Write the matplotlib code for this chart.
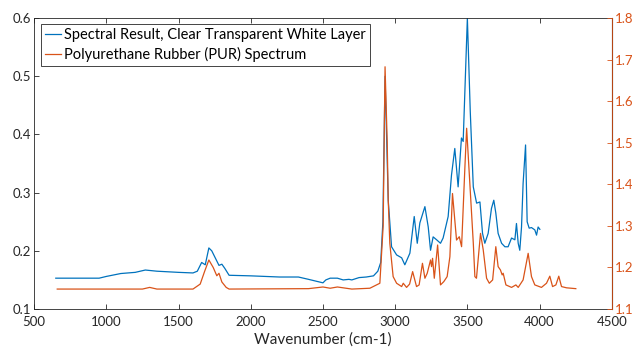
import matplotlib
matplotlib.use("Agg")
import matplotlib.pyplot as plt

plt.rcParams['font.family'] = ['Lato', 'DejaVu Sans']

# sample spectrum (left axis)
blue_wn = [650, 950, 1000, 1100, 1200, 1270, 1350, 1500, 1600, 1630, 1660, 1685, 1710, 1730,
           1760, 1780, 1800, 1820, 1850, 2000, 2200, 2330, 2400, 2500, 2520, 2550, 2600, 2640,
           2680, 2700, 2750, 2800, 2850, 2880, 2900, 2915, 2930, 2952, 2975, 3010, 3045, 3067,
           3102, 3132, 3153, 3171, 3206, 3229, 3245, 3263, 3287, 3314, 3332, 3367, 3390, 3413,
           3436, 3459, 3471, 3500, 3520, 3541, 3564, 3587, 3605, 3621, 3644, 3667, 3683, 3697,
           3713, 3737, 3760, 3782, 3806, 3829, 3840, 3852, 3863, 3875, 3886, 3903, 3914, 3928,
           3944, 3967, 3979, 3990, 4002]
blue_val = [.153, .153, .156, .161, .163, .167, .165, .163, .162, .165, .180, .176, .205, .200,
            .185, .175, .177, .170, .158, .157, .155, .155, .151, .145, .150, .153, .153, .150,
            .151, .150, .154, .155, .157, .165, .180, .250, .500, .287, .207, .193, .188, .176,
            .196, .259, .213, .248, .276, .241, .201, .224, .219, .213, .222, .259, .330, .376,
            .310, .394, .388, .600, .440, .310, .282, .284, .230, .213, .230, .273, .287, .265,
            .230, .213, .207, .207, .222, .219, .247, .213, .201, .241, .316, .382, .250, .239,
            .240, .236, .227, .241, .237]

# PUR reference spectrum (right axis)
pur_wn = [660, 1250, 1300, 1350, 1600, 1650, 1680, 1710, 1740, 1765, 1780, 1800, 1830, 1850,
          2400, 2500, 2550, 2600, 2700, 2825, 2894, 2917, 2930, 2945, 2952, 2963, 2986, 3010,
          3045, 3056, 3079, 3100, 3121, 3148, 3166, 3189, 3206, 3222, 3245, 3252, 3259, 3271,
          3294, 3314, 3337, 3360, 3379, 3397, 3413, 3425, 3444, 3460, 3483, 3495, 3517, 3541,
          3552, 3563, 3591, 3610, 3633, 3652, 3675, 3697, 3713, 3729, 3741, 3748, 3767, 3806,
          3836, 3852, 3886, 3921, 3944, 3967, 4013, 4048, 4071, 4090, 4113, 4133, 4152, 4187,
          4251]
pur_val = [1.148, 1.148, 1.152, 1.148, 1.148, 1.160, 1.190, 1.218, 1.200, 1.180, 1.186, 1.165,
           1.152, 1.148, 1.149, 1.153, 1.150, 1.153, 1.148, 1.150, 1.162, 1.300, 1.683, 1.500,
           1.362, 1.258, 1.178, 1.162, 1.154, 1.162, 1.152, 1.160, 1.190, 1.154, 1.158, 1.210,
           1.174, 1.186, 1.218, 1.202, 1.222, 1.174, 1.254, 1.158, 1.166, 1.178, 1.226, 1.378,
           1.314, 1.266, 1.274, 1.250, 1.442, 1.535, 1.403, 1.259, 1.178, 1.174, 1.282, 1.242,
           1.174, 1.162, 1.170, 1.250, 1.202, 1.194, 1.182, 1.186, 1.158, 1.152, 1.158, 1.152,
           1.170, 1.234, 1.178, 1.158, 1.152, 1.162, 1.179, 1.154, 1.158, 1.179, 1.154, 1.151,
           1.149]

labels = ['Spectral Result, Clear Transparent White Layer', 'Polyurethane Rubber (PUR) Spectrum']

blue = '#0072BD'
orange = '#D95319'
dark = '#262626'

fig = plt.figure(figsize=(6.32, 3.56), dpi=100)
ax = fig.add_axes([0.054, 0.132, 0.914, 0.817])
ax2 = ax.twinx()

l1, = ax.plot(blue_wn, blue_val, color=blue, lw=0.9)
l2, = ax2.plot(pur_wn, pur_val, color=orange, lw=0.9)

ax.set_xlim(500, 4500)
ax.set_ylim(0.1, 0.6)
ax2.set_ylim(1.1, 1.8)
ax.set_xticks(range(500, 4501, 500))
ax.set_yticks([0.1, 0.2, 0.3, 0.4, 0.5, 0.6])
ax2.set_yticks([1.1, 1.2, 1.3, 1.4, 1.5, 1.6, 1.7, 1.8])

ax.tick_params(direction='in', length=3.5, width=0.6, colors=dark, labelsize=9.5,
               top=True, pad=2)
ax.tick_params(axis='x', pad=5)
ax.tick_params(axis='y', right=False)
ax2.tick_params(direction='in', length=3.5, width=0.6, colors=orange, labelsize=9.5, pad=2)

for s in ['left', 'bottom', 'top']:
    ax.spines[s].set_color(dark)
    ax.spines[s].set_linewidth(0.6)
ax2.spines['right'].set_color(orange)
ax2.spines['right'].set_linewidth(0.6)
ax2.spines['left'].set_visible(False)
ax2.spines['top'].set_visible(False)
ax2.spines['bottom'].set_visible(False)

ax.set_xlabel('Wavenumber (cm-1)', fontsize=11, color=dark, labelpad=3)

leg = ax2.legend([l1, l2], labels, loc='upper left', bbox_to_anchor=(0.012, 0.98),
                 borderaxespad=0, fontsize=10.5, handlelength=1.1, handletextpad=0.15,
                 borderpad=0.3, labelspacing=0.3, fancybox=False, framealpha=1)
leg.get_frame().set_edgecolor(dark)
leg.get_frame().set_linewidth(0.6)

fig.savefig('out.png', dpi=100)
